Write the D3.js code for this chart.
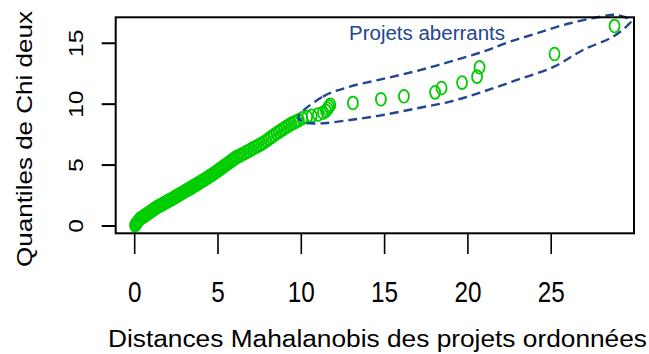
<!DOCTYPE html>
<html>
<head>
<meta charset="utf-8">
<script src="https://cdn.jsdelivr.net/npm/d3@7"></script>
<style>
  html, body { margin: 0; padding: 0; background: #fff; }
  svg { display: block; }
  text { font-family: "Liberation Sans", Arial, Helvetica, sans-serif; }
</style>
</head>
<body>
<svg id="chart" width="649" height="354"></svg>
<script>
// Ordered Mahalanobis distances (x) against chi-square quantiles (y)
const distances = [
  0.02,0.06,0.10,0.15,0.20,0.26,0.32,0.40,0.48,0.56,0.65,0.74,0.83,0.92,1.02,1.12,1.22,1.32,1.42,1.52,
  1.62,1.72,1.82,1.92,2.02,2.12,2.22,2.32,2.42,2.52,2.62,2.72,2.82,2.92,3.02,3.12,3.22,3.32,3.42,3.52,
  3.62,3.72,3.82,3.92,4.02,4.12,4.22,4.32,4.42,4.52,4.62,4.72,4.82,4.92,5.02,5.12,5.22,5.32,5.42,5.52,
  5.62,5.72,5.82,5.92,6.02,6.12,6.25,6.40,6.55,6.70,6.85,7.00,7.15,7.30,7.45,7.60,7.75,7.90,8.05,8.20,
  8.35,8.50,8.65,8.80,8.95,9.10,9.25,9.40,9.55,9.70,9.85,
  10.06,10.35,10.62,11.00,11.30,11.48,11.58,11.66,11.74,13.10,14.78,16.16,18.03,18.42,19.65,20.55,20.70,25.20,28.80
];
const quantiles = [
  0.04,0.12,0.20,0.30,0.38,0.48,0.58,0.66,0.74,0.81,0.89,0.97,1.06,1.14,1.24,1.34,1.44,1.53,1.61,1.68,
  1.76,1.83,1.91,1.98,2.06,2.13,2.21,2.29,2.37,2.45,2.53,2.61,2.69,2.77,2.85,2.93,3.01,3.09,3.17,3.26,
  3.34,3.42,3.50,3.59,3.67,3.75,3.84,3.92,4.01,4.10,4.19,4.28,4.37,4.47,4.57,4.67,4.77,4.87,4.97,5.07,
  5.17,5.27,5.37,5.47,5.57,5.65,5.74,5.85,5.95,6.06,6.18,6.29,6.40,6.51,6.62,6.73,6.85,7.00,7.15,7.30,
  7.45,7.59,7.73,7.86,7.99,8.13,8.26,8.38,8.48,8.58,8.68,
  8.84,8.95,9.04,9.15,9.30,9.45,9.62,9.80,9.95,10.10,10.40,10.65,10.97,11.33,11.77,12.26,13.03,14.12,16.42
];

// Tick values and labels
const xTicks = [0, 5, 10, 15, 20, 25];
const yTicks = [0, 5, 10, 15];

// Outline drawn around the outlying projects (data units)
const hullX = [9.83,11.30,12.92,14.90,16.94,18.93,20.91,22.53,24.15,25.95,27.94,28.95,29.79,
               29.61,28.71,26.91,25.17,22.95,20.91,18.93,16.94,14.90,12.92,11.12,10.10];
const hullY = [8.95,10.62,11.44,12.07,12.73,13.49,14.31,15.13,15.82,16.58,17.18,17.32,16.83,
               16.50,15.54,14.45,13.08,11.99,11.03,10.21,9.66,9.11,8.70,8.42,8.54];

const annotation = "Projets aberrants";
const xTitle = "Distances Mahalanobis des projets ordonnées";
const yTitle = "Quantiles de Chi deux";

const pointColor = "#00CD00";
const noteColor = "#22468F";

const box = { left: 115.7, right: 634, top: 17.3, bottom: 233.3 };

const x = d3.scaleLinear().domain([-1.14, 29.97]).range([box.left, box.right]);
const y = d3.scaleLinear().domain([-0.6, 17.13]).range([box.bottom, box.top]);

const svg = d3.select("#chart");

// Points (open symbols, slightly taller than wide)
const pts = distances.map((d, i) => ({ d, q: quantiles[i] }));
svg.append("g")
  .selectAll("ellipse")
  .data(pts)
  .join("ellipse")
  .attr("cx", p => x(p.d))
  .attr("cy", p => y(p.q))
  .attr("rx", 5)
  .attr("ry", 6.4)
  .attr("fill", "none")
  .attr("stroke", pointColor)
  .attr("stroke-width", 1.8);

// Dashed outline around the outliers
const hull = hullX.map((v, i) => [x(v), y(hullY[i])]);
svg.append("path")
  .attr("d", d3.line().curve(d3.curveCatmullRomClosed.alpha(0.5))(hull))
  .attr("fill", "none")
  .attr("stroke", noteColor)
  .attr("stroke-width", 2.4)
  .attr("stroke-dasharray", "9,5");

svg.append("text")
  .attr("x", 349)
  .attr("y", 40)
  .attr("font-size", 20)
  .attr("textLength", 156)
  .attr("lengthAdjust", "spacingAndGlyphs")
  .attr("fill", noteColor)
  .text(annotation);

// Plot frame
svg.append("rect")
  .attr("x", box.left).attr("y", box.top)
  .attr("width", box.right - box.left)
  .attr("height", box.bottom - box.top)
  .attr("fill", "none")
  .attr("stroke", "#000")
  .attr("stroke-width", 2);

// X axis ticks and labels
const gx = svg.append("g");
gx.selectAll("line")
  .data(xTicks)
  .join("line")
  .attr("x1", d => x(d)).attr("x2", d => x(d))
  .attr("y1", box.bottom).attr("y2", 254)
  .attr("stroke", "#000").attr("stroke-width", 1.6);
gx.selectAll("text")
  .data(xTicks)
  .join("text")
  .attr("transform", d => `translate(${x(d)},301.5) scale(0.81,1)`)
  .attr("text-anchor", "middle")
  .attr("font-size", 30)
  .attr("fill", "#000")
  .text(d => d);

// Y axis ticks and labels
const gy = svg.append("g");
gy.selectAll("line")
  .data(yTicks)
  .join("line")
  .attr("x1", 101.7).attr("x2", box.left)
  .attr("y1", d => y(d)).attr("y2", d => y(d))
  .attr("stroke", "#000").attr("stroke-width", 2);
gy.selectAll("text")
  .data(yTicks)
  .join("text")
  .attr("transform", d => `translate(83.3,${y(d)}) rotate(-90) scale(1.17,1)`)
  .attr("text-anchor", "middle")
  .attr("font-size", 21)
  .attr("fill", "#000")
  .text(d => d);

// Axis titles
svg.append("text")
  .attr("x", 108)
  .attr("y", 347)
  .attr("font-size", 23.5)
  .attr("textLength", 539)
  .attr("lengthAdjust", "spacingAndGlyphs")
  .attr("fill", "#000")
  .text(xTitle);

svg.append("text")
  .attr("transform", "translate(31.5,139) rotate(-90)")
  .attr("text-anchor", "middle")
  .attr("font-size", 22.5)
  .attr("textLength", 256)
  .attr("lengthAdjust", "spacingAndGlyphs")
  .attr("fill", "#000")
  .text(yTitle);
</script>
</body>
</html>
